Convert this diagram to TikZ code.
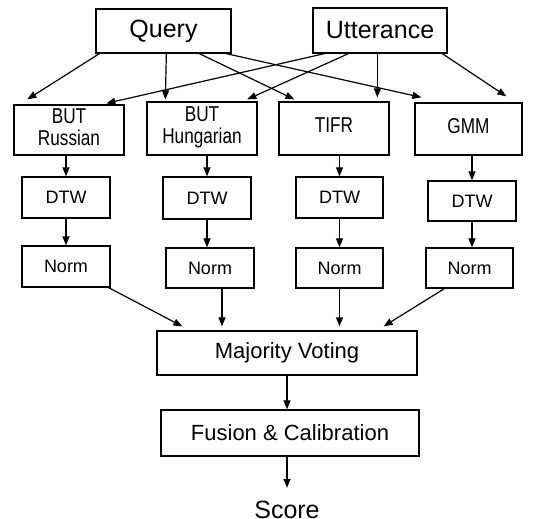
\documentclass[tikz,border=0pt]{standalone}
\usepackage{fontspec}
\setmainfont{Liberation Sans}
\usetikzlibrary{arrows.meta}
\newcommand{\narrowtext}[1]{\scalebox{0.8}[1]{\begin{tabular}{@{}c@{}}#1\end{tabular}}}
\begin{document}
\begin{tikzpicture}[x=1pt,y=-1pt,
  box/.style={draw,line width=1.3pt,inner sep=0pt,align=center},
  arr/.style={line width=1.2pt,-{Triangle[length=9pt,width=7pt]}},
  big/.style={font=\fontsize{25}{28}\selectfont},
  mid/.style={font=\fontsize{22}{24}\selectfont},
  sys/.style={font=\fontsize{21.5}{20.5}\selectfont},
  small/.style={font=\fontsize{18}{20}\selectfont},
]
\useasboundingbox (0,0) rectangle (533,519);

% inputs
\node[box,big,minimum width=135pt,minimum height=44pt] (q) at (163.5,31) {Query};
\node[box,big,minimum width=134pt,minimum height=45pt] (u) at (380,30.5) {Utterance};

% recognisers
\node[box,sys,minimum width=110pt,minimum height=50pt] (br) at (69,130) {\narrowtext{BUT\\Russian}};
\node[box,sys,minimum width=110pt,minimum height=53pt] (bh) at (202,128.5) {\narrowtext{BUT\\Hungarian}};
\node[box,sys,minimum width=110pt,minimum height=53pt] (ti) at (334,128.5) {\narrowtext{TIFR}};
\node[box,sys,minimum width=107pt,minimum height=52pt] (gm) at (468.5,129) {\narrowtext{GMM}};

% DTW stage
\node[box,small,minimum width=88pt,minimum height=41pt] (d1) at (66,197.5) {DTW};
\node[box,small,minimum width=88pt,minimum height=42pt] (d2) at (207,198) {DTW};
\node[box,small,minimum width=87pt,minimum height=41pt] (d3) at (339.5,197.5) {DTW};
\node[box,small,minimum width=88pt,minimum height=40pt] (d4) at (472,201) {DTW};

% normalisation stage
\node[box,small,minimum width=88pt,minimum height=41pt] (n1) at (66,266.5) {Norm};
\node[box,small,minimum width=88pt,minimum height=40pt] (n2) at (210,268) {Norm};
\node[box,small,minimum width=87pt,minimum height=40pt] (n3) at (339.5,268) {Norm};
\node[box,small,minimum width=87pt,minimum height=40pt] (n4) at (469.5,268) {Norm};

% decision stage
\node[box,mid,minimum width=260pt,minimum height=44pt] (mv) at (287,353) {Majority Voting};
\node[box,mid,minimum width=258pt,minimum height=46pt] (fc) at (290,433) {Fusion \& Calibration};
\node[big,inner sep=0pt,anchor=base] (sc) at (287,518.5) {Score};

% query fan-out
\draw[arr] ([xshift=4pt]q.south west) -- ([xshift=14pt,yshift=5pt]br.north west);
\draw[arr] ([xshift=71pt]q.south west) -- ([xshift=19pt,yshift=2pt]bh.north west);
\draw[arr] ([xshift=104pt]q.south west) -- ([xshift=16pt,yshift=2pt]ti.north west);
\draw[arr] ([xshift=131pt]q.south west) -- ([xshift=7pt,yshift=5pt]gm.north west);

% utterance fan-out
\draw[arr] ([xshift=12pt]u.south west) -- ([xshift=93pt,yshift=1pt]br.north west);
\draw[arr] ([xshift=36pt]u.south west) -- ([xshift=101pt,yshift=2pt]bh.north west);
\draw[arr] ([xshift=65pt]u.south west) -- ([xshift=99pt,yshift=4pt]ti.north west);
\draw[arr] ([xshift=130pt]u.south west) -- ([xshift=92pt,yshift=6pt]gm.north west);

% per-system chains
\draw[arr] (br.south -| d1.north) -- (d1.north);
\draw[arr] (bh.south -| d2.north) -- (d2.north);
\draw[arr] (ti.south -| d3.north) -- (d3.north);
\draw[arr] (gm.south -| d4.north) -- (d4.north);
\draw[arr] (d1.south) -- (d1.south |- n1.north);
\draw[arr] (d2.south) -- (d2.south |- n2.north);
\draw[arr] (d3.south) -- (d3.south |- n3.north);
\draw[arr] (d4.south) -- (d4.south |- n4.north);

% into majority voting
\draw[arr] ([xshift=-2pt]n1.south east) -- ([xshift=26pt,yshift=4pt]mv.north west);
\draw[arr] ([xshift=12pt]n2.south) -- ([xshift=12pt,yshift=4pt]n2.south |- mv.north);
\draw[arr] (n3.south) -- ([yshift=4pt]n3.south |- mv.north);
\draw[arr] ([xshift=19pt]n4.south west) -- ([xshift=-34pt,yshift=4pt]mv.north east);

% to the score
\draw[arr] (mv.south) -- (mv.south |- fc.north);
\draw[arr] (fc.south -| sc) -- ([yshift=13pt]sc.north);
\end{tikzpicture}
\end{document}
